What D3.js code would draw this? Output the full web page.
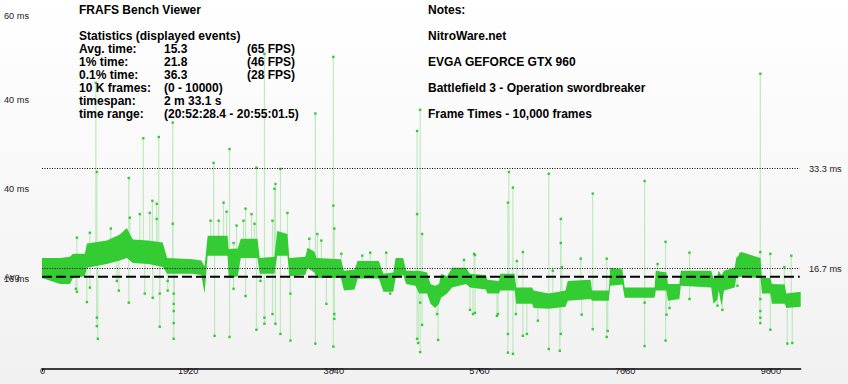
<!DOCTYPE html>
<html><head><meta charset="utf-8">
<script src="https://cdn.jsdelivr.net/npm/d3@7"></script>
<style>body{margin:0;background:#fff}svg{display:block}</style>
</head><body>
<svg id="c" width="848" height="384"></svg>
<script>
// ---- data ----
const bandFrames = [0,237,368,408,565,592,855,1026,1118,1197,1400,1591,1650,1986,2100,2143,2183,2446,2460,2580,2620,2840,2870,3064,3100,3235,3260,3470,3500,3590,3620,3940,3980,4120,4160,4440,4500,4630,4660,4760,4800,4920,4971,5076,5120,5181,5234,5260,5339,5405,5590,5640,5850,5870,6023,6040,6230,6250,6460,6480,6680,6900,6930,7230,7250,7470,7490,7650,7680,8074,8090,8230,8250,8400,8420,8820,8850,8900,8920,8955,8990,9130,9150,9220,9470,9490,9600,9620,9790,9810,10000];
const bandLow = [15.1,14.1,14.1,15.1,15.4,16.8,17.4,18.0,18.4,17.6,17.4,16.9,15.8,15.8,15.6,12.5,18.8,18.8,15.1,15.4,18.4,18.4,15.8,15.8,18.8,18.8,15.4,15.6,16.8,16.0,15.1,15.1,13.0,13.2,15.0,15.0,12.8,12.8,15.1,15.6,14.1,13.8,12.5,12.5,10.8,10.1,10.8,11.8,12.5,13.5,14.1,13.5,13.2,12.5,12.5,13.0,13.0,10.8,10.8,10.1,10.0,10.3,11.3,11.6,11.3,11.3,13.8,14.0,11.8,11.8,13.0,13.0,11.3,11.6,13.8,13.5,10.8,11.5,13.0,10.5,13.0,13.5,15.1,15.3,15.1,12.5,12.5,10.8,10.8,10.1,10.3];
const bandHigh = [18.4,18.4,18.6,19.1,19.1,20.8,21.3,22.3,23.4,21.5,21.3,21.0,18.4,18.2,18.0,17.0,22.1,22.1,19.9,20.0,21.6,21.6,18.4,18.6,22.9,22.4,18.4,18.6,20.1,19.5,18.4,18.2,16.3,16.5,17.9,17.9,15.8,16.0,18.4,18.4,16.3,16.3,16.3,16.0,14.1,13.8,14.1,15.8,15.4,16.8,16.8,15.8,15.6,14.8,14.6,15.8,15.8,13.5,13.5,13.0,12.5,13.0,14.6,14.8,13.0,13.0,16.8,16.5,13.5,13.5,16.3,16.0,14.1,14.1,16.3,16.3,15.1,15.4,16.3,15.5,16.3,16.8,18.4,19.4,18.4,15.1,15.1,14.1,14.0,12.5,12.8];
const spikeFrames = [447,460,460,592,631,631,710,723,723,723,736,907,986,1013,1144,1144,1157,1289,1335,1354,1420,1455,1460,1512,1512,1539,1552,1552,1657,1657,1723,1723,1736,1736,1736,1736,1736,2222,2262,2275,2328,2393,2433,2472,2472,2525,2525,2564,2656,2683,2683,2762,2801,2827,2827,2880,2932,2932,2932,3038,3038,3064,3077,3077,3143,3143,3235,3274,3274,3524,3603,3603,3629,3682,3748,3840,3840,3840,3853,3853,3853,3945,4221,4326,4537,4589,4944,4944,4944,4958,4984,4984,4984,5010,5010,5207,5221,5562,5641,5681,5694,5707,5707,5996,6010,6141,6141,6141,6154,6207,6207,6246,6259,6338,6338,6391,6536,6680,6680,6733,6825,6838,6838,6838,6851,7101,7114,7259,7259,7443,7443,7456,7943,7943,7943,8114,8219,8219,8232,8271,8534,8534,8903,8968,9166,9205,9468,9468,9468,9468,9468,9468,9600,9600,9784,9823,9876,9889];
const spikeValues = [13.3,21.8,12.8,11.1,22.6,13.5,47.5,32.7,8.5,7.1,5.0,23.3,14.6,13.0,31.7,11.0,25.1,25.7,38.3,12.5,25.9,27.9,11.8,27.4,24.9,38.5,7.0,12.5,14.6,13.0,40.9,24.1,12.5,10.8,9.6,7.6,5.0,24.6,34.2,5.5,24.6,27.6,26.1,36.5,5.3,20.9,13.3,23.8,24.6,26.6,12.1,25.7,24.1,33.4,6.5,14.6,52.3,8.5,7.5,24.6,9.1,29.9,30.7,7.5,33.2,5.8,25.9,12.5,4.7,21.6,42.4,4.2,22.4,21.3,10.8,51.8,27.1,3.7,23.3,9.1,8.3,19.1,18.8,19.3,19.3,12.5,39.5,25.7,5.0,4.3,43.0,11.0,2.8,22.4,7.3,9.1,4.8,18.1,9.8,9.1,19.1,18.9,9.3,8.8,9.1,27.6,5.8,2.7,32.7,30.1,2.5,9.1,17.9,19.4,5.5,5.8,8.0,32.4,3.3,16.3,3.0,24.9,20.9,5.8,16.9,18.3,9.0,29.1,6.6,18.3,5.3,6.3,31.2,11.0,3.8,17.4,21.1,4.7,9.0,10.1,19.3,11.6,10.5,9.8,13.8,19.1,49.0,19.4,11.6,9.6,8.5,7.6,19.1,6.5,16.9,4.2,18.8,4.3];
const xTicks = [0,1920,3840,5760,7680,9600];
const refLines = [33.3, 16.7];
const refLabels = ["33.3 ms", "16.7 ms"];
const avgTime = 15.3;
const yLabelTexts = ["60 ms","40 ms","40 ms","16 ms","Avg"];
const yLabelAt = [58.7, 44.7, 29.9, 15.0, 15.3];
const title = "FRAFS Bench Viewer";
const statHeader = "Statistics (displayed events)";
const statLabels = ["Avg. time:","1% time:","0.1% time:","10 K frames:","timespan:","time range:"];
const statValues = ["15.3","21.8","36.3","(0 - 10000)","2 m 33.1 s","(20:52:28.4 - 20:55:01.5)"];
const statFps = ["(65 FPS)","(46 FPS)","(28 FPS)","","",""];
const notes = ["Notes:","NitroWare.net","EVGA GEFORCE GTX 960","Battlefield 3 - Operation swordbreaker","Frame Times - 10,000 frames"];

// ---- drawing ----
const svg = d3.select("#c");
const defs = svg.append("defs");
const g = defs.append("linearGradient").attr("id","bg").attr("x1",0).attr("y1",0).attr("x2",0).attr("y2",1);
g.append("stop").attr("offset","0%").attr("stop-color","#ffffff");
g.append("stop").attr("offset","100%").attr("stop-color","#f1f1f1");
svg.append("rect").attr("width",848).attr("height",384).attr("fill","url(#bg)");

const x = d3.scaleLinear().domain([0,10000]).range([42,800.7]);
const y = d3.scaleLinear().domain([0,60]).range([368.9,7.5]);

const band = bandFrames.map((f,i)=>({f, lo:bandLow[i], hi:bandHigh[i]}));
const mid = d3.scaleLinear().domain(bandFrames).range(bandFrames.map((f,i)=>(bandLow[i]+bandHigh[i])/2));
const spikes = spikeFrames.map((f,i)=>({f, v:spikeValues[i]}));

// spike lines
svg.append("g").selectAll("line").data(spikes).join("line")
  .attr("x1",d=>x(d.f)).attr("x2",d=>x(d.f))
  .attr("y1",d=>y(mid(d.f))).attr("y2",d=>y(d.v))
  .attr("stroke","#bfe9bf").attr("stroke-width",1.2);

// band
svg.append("path").datum(band)
  .attr("d", d3.area().x(d=>x(d.f)).y0(d=>y(d.lo)).y1(d=>y(d.hi)))
  .attr("fill","#33cc33");

// spike points
svg.append("g").selectAll("rect").data(spikes).join("rect")
  .attr("x",d=>x(d.f)-1.2).attr("y",d=>y(d.v)-1.2)
  .attr("width",2.4).attr("height",2.4).attr("fill","#33cc33");

// reference dotted lines
svg.append("g").selectAll("line").data(refLines).join("line")
  .attr("x1",x(0)).attr("x2",x(10000)-1)
  .attr("y1",d=>Math.round(y(d))+0.5).attr("y2",d=>Math.round(y(d))+0.5)
  .attr("stroke","#000").attr("stroke-width",1).attr("stroke-dasharray","1,1.5");
svg.append("g").selectAll("text").data(refLines).join("text")
  .attr("x",809).attr("y",d=>y(d)+3.5)
  .text((d,i)=>refLabels[i])
  .attr("font-family","Liberation Sans, Arial, sans-serif").attr("font-size",9.2).attr("fill","#222");

// avg dashed line
svg.append("line").attr("x1",x(0)).attr("x2",x(10000)-1)
  .attr("y1",y(avgTime)).attr("y2",y(avgTime))
  .attr("stroke","#000").attr("stroke-width",1.8).attr("stroke-dasharray","10,4");

// y labels
svg.append("g").selectAll("text").data(yLabelTexts).join("text")
  .attr("x",4).attr("y",(d,i)=>y(yLabelAt[i])+3.5).text(d=>d)
  .attr("font-family","Liberation Sans, Arial, sans-serif").attr("font-size",9.2).attr("fill","#222");

// x axis
const ax = svg.append("g").attr("transform","translate(0,368.5)")
  .call(d3.axisBottom(x).tickValues(xTicks).tickSize(3).tickSizeOuter(0).tickFormat(d3.format("d")));
ax.select(".domain").attr("stroke","#000").attr("stroke-width",1.5);
ax.selectAll(".tick line").attr("stroke","#000");
ax.selectAll(".tick text").attr("dy","0.2em").attr("y",4)
  .attr("font-family","Liberation Sans, Arial, sans-serif").attr("font-size",9.2).attr("fill","#222");

// header texts
const tf = "Liberation Sans, Arial, sans-serif";
const T = svg.append("g").attr("font-family",tf).attr("font-weight","bold").attr("font-size",12).attr("fill","#000");
T.append("text").attr("x",79).attr("y",14).text(title);
T.append("text").attr("x",79).attr("y",40).text(statHeader);
statLabels.forEach((s,i)=>{
  const yy = 53 + i*12.95;
  T.append("text").attr("x",79).attr("y",yy).text(s);
  T.append("text").attr("x",164).attr("y",yy).text(statValues[i]);
  if(statFps[i]) T.append("text").attr("x",247).attr("y",yy).text(statFps[i]);
});
notes.forEach((s,i)=>{
  T.append("text").attr("x",428).attr("y",14+i*26).text(s);
});
</script>
</body></html>
